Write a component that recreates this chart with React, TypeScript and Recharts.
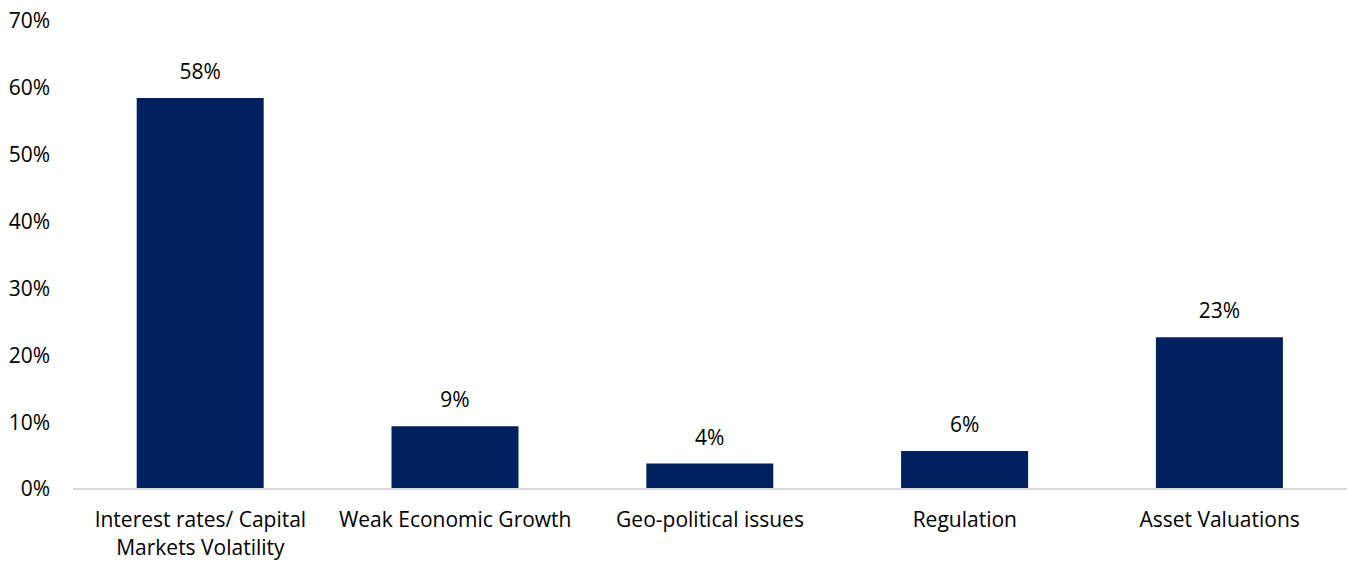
import { BarChart, Bar, XAxis, YAxis, LabelList } from "recharts"

const categories = [
  "Interest rates/ Capital\nMarkets Volatility",
  "Weak Economic Growth",
  "Geo-political issues",
  "Regulation",
  "Asset Valuations",
]
const shares = [58.49, 9.4, 3.8, 5.7, 22.7]
const yTicks = [0, 10, 20, 30, 40, 50, 60, 70]

const FONT = "'Open Sans', sans-serif"
const FONT_SIZE = 21
const BAR_COLOR = "#002060"
const textStyle = { fontSize: FONT_SIZE, fontFamily: FONT, fill: "#000" }

const data = categories.map((name, i) => ({ name, value: shares[i] }))

function CategoryTick(props: any) {
  const { x, y, payload } = props
  const lines = String(payload.value).split("\n")
  return (
    <text x={x} y={y} textAnchor="middle" style={textStyle}>
      {lines.map((line, i) => (
        <tspan key={i} x={x} dy={i === 0 ? 15 : 28}>
          {line}
        </tspan>
      ))}
    </text>
  )
}

export default function App() {
  return (
    <div style={{ position: "absolute", left: 0, top: 0, background: "#fff" }}>
      <BarChart
        width={1347}
        height={561}
        data={data}
        margin={{ top: 21, right: 0, bottom: 0, left: 0 }}
        barCategoryGap="25%"
      >
        <XAxis
          dataKey="name"
          axisLine={{ stroke: "#d9d9d9", strokeWidth: 2 }}
          tickLine={false}
          tickSize={0}
          tickMargin={23}
          height={72}
          interval={0}
          tick={<CategoryTick />}
        />
        <YAxis
          domain={[0, 70]}
          ticks={yTicks}
          width={73}
          axisLine={false}
          tickLine={false}
          tickSize={0}
          tickMargin={23}
          tickFormatter={(v: number) => `${v}%`}
          tick={textStyle}
        />
        <Bar dataKey="value" fill={BAR_COLOR} isAnimationActive={false}>
          <LabelList
            dataKey="value"
            position="top"
            offset={19}
            formatter={(v: any) => `${Math.round(Number(v))}%`}
            style={textStyle}
          />
        </Bar>
      </BarChart>
    </div>
  )
}
